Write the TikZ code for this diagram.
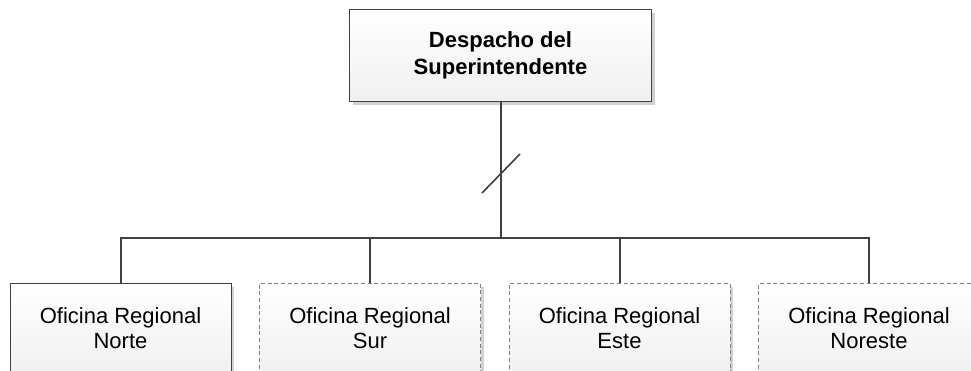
\documentclass[tikz,border=0pt]{standalone}
\usepackage{fontspec}
\setmainfont{Liberation Sans}
\usetikzlibrary{shadows}
\definecolor{lineGray}{HTML}{404040}
\definecolor{dashGray}{HTML}{7F7F7F}
\tikzset{
  unitbox/.style={rectangle, inner sep=0pt, align=center,
    top color=white, bottom color=black!6,
    drop shadow={shadow xshift=2.5pt, shadow yshift=-2.5pt, fill=black!18, opacity=1}},
  headbox/.style={unitbox, draw=lineGray, line width=0.6pt,
    minimum width=226.5pt, minimum height=69pt,
    font=\fontsize{16.5}{20.25}\selectfont\bfseries},
  solidchild/.style={unitbox, draw=lineGray, line width=0.6pt,
    minimum width=165.75pt, minimum height=67.5pt,
    font=\fontsize{16.5}{18.75}\selectfont},
  dashchild/.style={unitbox, draw=dashGray, line width=0.6pt, dash pattern=on 3pt off 2pt,
    minimum width=165.75pt, minimum height=67.5pt,
    font=\fontsize{16.5}{18.75}\selectfont},
  link/.style={draw=lineGray, line width=1.5pt},
  thinlink/.style={draw=lineGray, line width=1.2pt}
}
\begin{document}
\begin{tikzpicture}[x=0.75pt,y=-0.75pt]
\clip (0,0) rectangle (971,371);
\fill[white] (0,0) rectangle (971,371);
\node[headbox] (top) at (500.5,55.5) {Despacho del\\Superintendente};
\node[solidchild, anchor=north] (c1) at (120.5,283) {Oficina Regional\\Norte};
\node[dashchild, anchor=north] (c2) at (370,283) {Oficina Regional\\Sur};
\node[dashchild, anchor=north] (c3) at (619.5,283) {Oficina Regional\\Este};
\node[dashchild, anchor=north] (c4) at (869,283) {Oficina Regional\\Noreste};
\coordinate (bar) at (500.5,238);
\coordinate (slashA) at (482,193);
\coordinate (slashB) at (520,154);
\draw[link] (top.south) -- (bar);
\draw[link] (c1.north) |- (bar) -| (c4.north);
\draw[link] (c2.north) -- (c2.north |- bar);
\draw[link] (c3.north) -- (c3.north |- bar);
\draw[thinlink] (slashA) -- (slashB);
\end{tikzpicture}
\end{document}
